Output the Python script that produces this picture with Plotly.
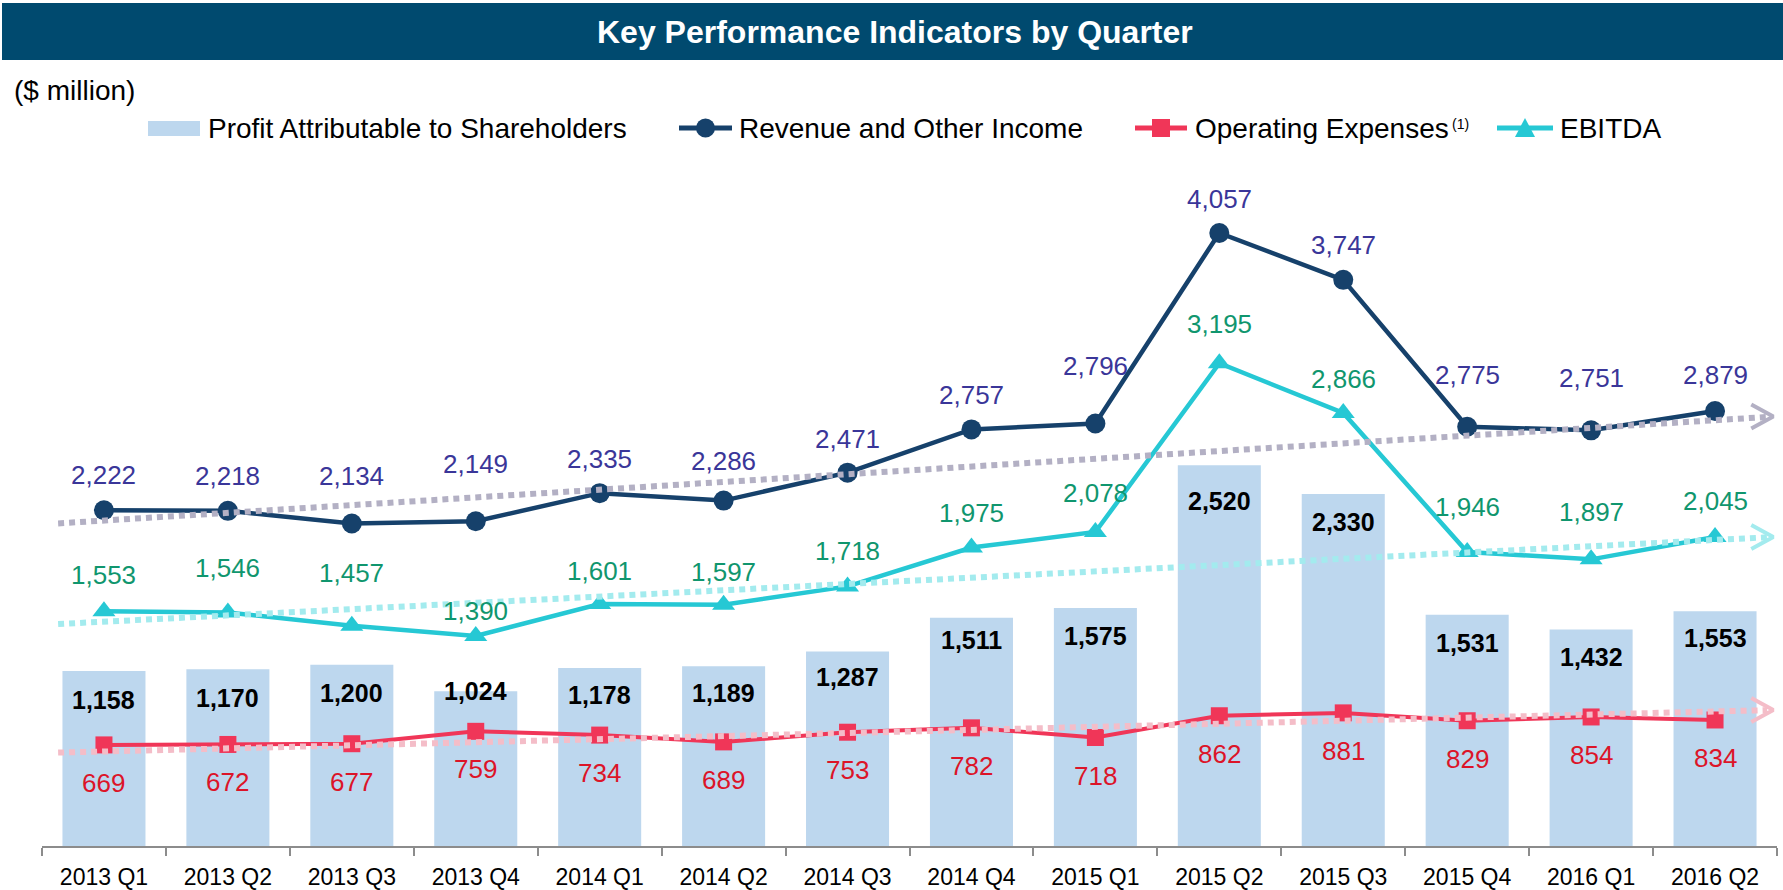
import plotly.graph_objects as go

# ---------------- data ----------------
quarters = ["2013 Q1", "2013 Q2", "2013 Q3", "2013 Q4", "2014 Q1", "2014 Q2", "2014 Q3",
            "2014 Q4", "2015 Q1", "2015 Q2", "2015 Q3", "2015 Q4", "2016 Q1", "2016 Q2"]
profit = [1158, 1170, 1200, 1024, 1178, 1189, 1287, 1511, 1575, 2520, 2330, 1531, 1432, 1553]
revenue = [2222, 2218, 2134, 2149, 2335, 2286, 2471, 2757, 2796, 4057, 3747, 2775, 2751, 2879]
opex = [669, 672, 677, 759, 734, 689, 753, 782, 718, 862, 881, 829, 854, 834]
ebitda = [1553, 1546, 1457, 1390, 1601, 1597, 1718, 1975, 2078, 3195, 2866, 1946, 1897, 2045]

# trend arrows: value at start and at arrow tip
revenue_trend = [2135, 2842]
ebitda_trend = [1469, 2045]
opex_trend = [618, 900]

# ---------------- styles ----------------
FONT = "Liberation Sans, Arial, sans-serif"
C_TITLE_BG = "#004A6F"
C_BAR = "#BDD7EE"
C_REV = "#16416B"
C_OPEX = "#F03658"
C_EBITDA = "#26C8D4"
C_REV_LBL = "#3A3699"
C_OPEX_LBL = "#DC1428"
C_EBITDA_LBL = "#10966E"
C_REV_TREND = "#B3B0C4"
C_EBITDA_TREND = "#A3EBEE"
C_OPEX_TREND = "#F4BDC8"

# label offsets in px (label styling)
rev_label_dy = [35, 35, 48, 57, 34, 40, 34, 34, 58, 34, 35, 52, 52, 36]
ebitda_label_dy = [36, 44, 53, 25, 33, 33, 35, 35, 39, 39, 34, 45, 47, 36]
bar_label_dy = [29, 29, 28, 0, 27, 27, 25, 22, 28, 36, 28, 28, 27, 27]
opex_label_dy = 38

W, H = 1783, 890
PLOT_L, PLOT_R = 42, 1777
PLOT_B, PLOT_T = 846, 150
PX_PER_UNIT = 0.1511
Y_MAX = (PLOT_B - PLOT_T) / PX_PER_UNIT
PX_PER_CAT = (PLOT_R - PLOT_L) / len(quarters)

TREND_X0, TREND_X1 = -0.37, 13.47

fig = go.Figure()

fig.add_trace(go.Bar(x=quarters, y=profit, marker=dict(color=C_BAR, line=dict(width=0)),
                     name="Profit Attributable to Shareholders"))
fig.add_trace(go.Scatter(x=quarters, y=opex, mode="lines+markers", name="Operating Expenses",
                         line=dict(color=C_OPEX, width=4),
                         marker=dict(symbol="square", size=17, color=C_OPEX)))
fig.add_trace(go.Scatter(x=quarters, y=ebitda, mode="lines+markers", name="EBITDA",
                         line=dict(color=C_EBITDA, width=4.5),
                         marker=dict(symbol="triangle-up", size=20, color=C_EBITDA)))
fig.add_trace(go.Scatter(x=quarters, y=revenue, mode="lines+markers", name="Revenue and Other Income",
                         line=dict(color=C_REV, width=4.5),
                         marker=dict(symbol="circle", size=20, color=C_REV)))

# trend lines with chevron arrow heads
dx = 22 / PX_PER_CAT
dv = 12 / PX_PER_UNIT
for vals, col in [(revenue_trend, C_REV_TREND), (ebitda_trend, C_EBITDA_TREND), (opex_trend, C_OPEX_TREND)]:
    slope = (vals[1] - vals[0]) / (TREND_X1 - TREND_X0)
    fig.add_trace(go.Scatter(x=[TREND_X0, TREND_X1 - 0.05], y=[vals[0], vals[1] - slope * 0.05],
                             mode="lines", xaxis="x2", yaxis="y", hoverinfo="skip",
                             line=dict(color=col, width=6, dash="6px,5px")))
    fig.add_trace(go.Scatter(x=[TREND_X1 - dx, TREND_X1, TREND_X1 - dx], y=[vals[1] + dv, vals[1], vals[1] - dv],
                             mode="lines", xaxis="x2", yaxis="y", hoverinfo="skip",
                             line=dict(color=col, width=4)))

annotations = []
# data labels
for i, q in enumerate(quarters):
    annotations.append(dict(x=q, y=revenue[i], xref="x", yref="y", text=f"{revenue[i]:,}", showarrow=False,
                            xanchor="center", yanchor="middle",
                            yshift=rev_label_dy[i], font=dict(size=26, color=C_REV_LBL, family=FONT)))
    annotations.append(dict(x=q, y=ebitda[i], xref="x", yref="y", text=f"{ebitda[i]:,}", showarrow=False,
                            xanchor="center", yanchor="middle",
                            yshift=ebitda_label_dy[i], font=dict(size=26, color=C_EBITDA_LBL, family=FONT)))
    annotations.append(dict(x=q, y=opex[i], xref="x", yref="y", text=f"{opex[i]:,}", showarrow=False,
                            xanchor="center", yanchor="middle",
                            yshift=-opex_label_dy, font=dict(size=26, color=C_OPEX_LBL, family=FONT)))
    annotations.append(dict(x=q, y=profit[i], xref="x", yref="y", text=f"<b>{profit[i]:,}</b>", showarrow=False,
                            xanchor="center", yanchor="middle",
                            yshift=-bar_label_dy[i], font=dict(size=25, color="black", family=FONT)))


def px(x):
    return x / W


def py(y):
    return 1 - y / H


# title & unit
annotations.append(dict(x=px(895), y=py(32), xref="paper", yref="paper", showarrow=False,
                        xanchor="center", yanchor="middle",
                        text="<b>Key Performance Indicators by Quarter</b>",
                        font=dict(size=32, color="white", family=FONT)))
annotations.append(dict(x=px(12), y=py(90), xref="paper", yref="paper", showarrow=False,
                        xanchor="left", yanchor="middle",
                        text="($ million)", font=dict(size=28, color="black", family=FONT)))

# legend
LEG_Y = 128
leg_texts = [(206, "Profit Attributable to Shareholders"), (737, "Revenue and Other Income"),
             (1193, "Operating Expenses"), (1558, "EBITDA")]
for x0, t in leg_texts:
    annotations.append(dict(x=px(x0), y=py(LEG_Y), xref="paper", yref="paper", showarrow=False,
                            xanchor="left", yanchor="middle",
                            text=t, font=dict(size=28, color="black", family=FONT)))
annotations.append(dict(x=px(1450), y=py(124), xref="paper", yref="paper", showarrow=False,
                        xanchor="left", yanchor="middle",
                        text="(1)", font=dict(size=14, color="black", family=FONT)))

shapes = [
    dict(type="rect", xref="paper", yref="paper", x0=px(2), x1=1, y0=py(60), y1=py(3),
         fillcolor=C_TITLE_BG, line=dict(width=0), layer="below"),
    dict(type="rect", xref="paper", yref="paper", x0=px(148), x1=px(200), y0=py(136), y1=py(121),
         fillcolor=C_BAR, line=dict(width=0)),
]
for (x0, x1, col) in [(679, 732, C_REV), (1135, 1187, C_OPEX), (1497, 1553, C_EBITDA)]:
    shapes.append(dict(type="line", xref="paper", yref="paper", x0=px(x0), x1=px(x1), y0=py(LEG_Y), y1=py(LEG_Y),
                       line=dict(color=col, width=5)))
shapes.append(dict(type="circle", xref="paper", yref="paper", x0=px(696), x1=px(715), y0=py(137.5), y1=py(118.5),
                   fillcolor=C_REV, line=dict(width=0)))
shapes.append(dict(type="rect", xref="paper", yref="paper", x0=px(1152), x1=px(1170), y0=py(137), y1=py(119),
                   fillcolor=C_OPEX, line=dict(width=0)))
tri = f"M {px(1525)},{py(118)} L {px(1535)},{py(137)} L {px(1515)},{py(137)} Z"
shapes.append(dict(type="path", xref="paper", yref="paper", path=tri, fillcolor=C_EBITDA, line=dict(width=0)))

fig.update_layout(
    width=W, height=H,
    margin=dict(l=0, r=0, t=0, b=0, pad=0),
    paper_bgcolor="white", plot_bgcolor="rgba(0,0,0,0)",
    showlegend=False, bargap=0.33,
    font=dict(family=FONT, color="black"),
    annotations=annotations, shapes=shapes,
    xaxis=dict(type="category", categoryorder="array", categoryarray=quarters,
               domain=[PLOT_L / W, PLOT_R / W], range=[-0.5, len(quarters) - 0.5],
               showline=True, linecolor="#8C8C8C", linewidth=2,
               ticks="outside", tickson="boundaries", ticklen=8, tickwidth=2, tickcolor="#8C8C8C",
               tickfont=dict(size=23, color="black", family=FONT), ticklabelstandoff=9,
               showgrid=False, zeroline=False, anchor="y", fixedrange=True),
    xaxis2=dict(overlaying="x", range=[-0.5, len(quarters) - 0.5], visible=False, anchor="y"),
    yaxis=dict(domain=[(H - PLOT_B) / H, (H - PLOT_T) / H], range=[0, Y_MAX], visible=False,
               showgrid=False, zeroline=False, fixedrange=True),
)

fig.write_html("out.html", config={"displayModeBar": False},
               post_script="document.body.style.margin='0';document.body.style.overflow='hidden';")
